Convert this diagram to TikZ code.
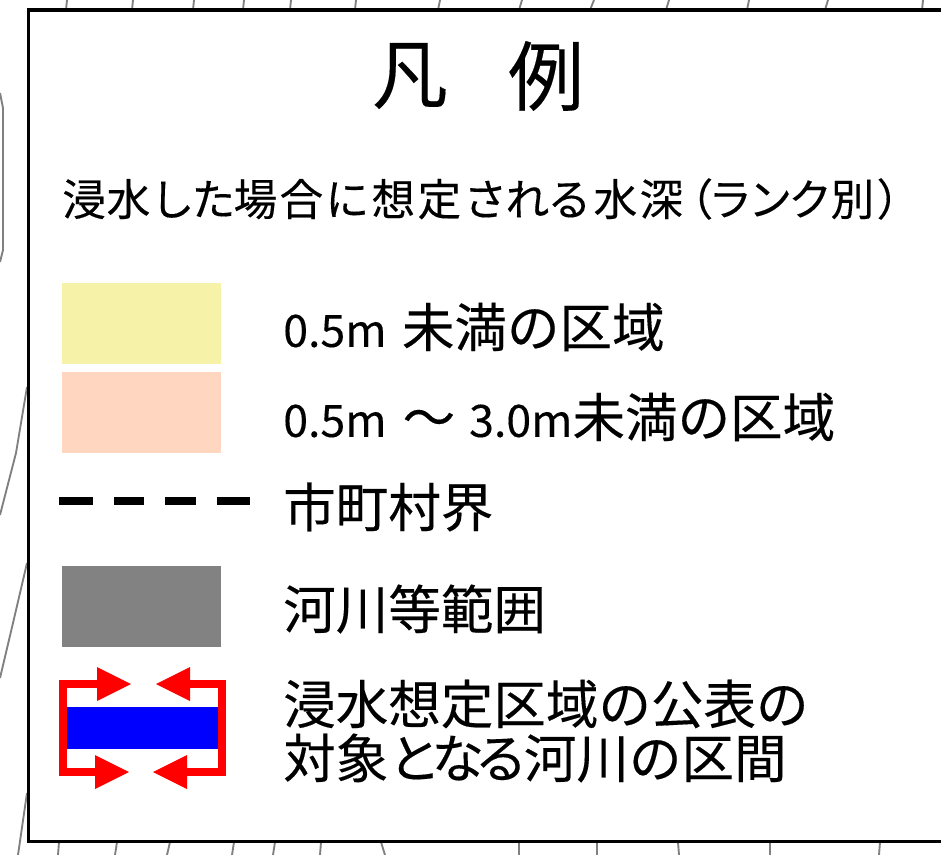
\documentclass[tikz,border=0pt]{standalone}
\usepackage{fontspec}
\setmainfont[UprightFeatures={FakeBold=0.25}]{Noto Sans CJK JP}
\definecolor{swyellow}{HTML}{F6F3A9}
\definecolor{swpeach}{HTML}{FFD6C0}
\definecolor{swgray}{HTML}{828282}
\definecolor{mapline}{HTML}{808080}
\newcommand{\latinpart}[1]{{\fontsize{33.5}{39}\selectfont #1}}
\tikzset{
  px/.style={x=0.75pt,y=-0.75pt},
  mapstroke/.style={draw=mapline,line width=1.4pt},
  frame/.style={draw=black,line width=2.6pt},
  swatch/.style={inner sep=0pt,outer sep=0pt,minimum width=119.25pt,minimum height=60.5pt,anchor=north west},
  rowtext/.style={anchor=west,inner sep=0pt,font=\fontsize{39.4}{40}\selectfont},
  subtext/.style={anchor=west,inner sep=0pt,font=\fontsize{32.7}{34}\selectfont},
  titletext/.style={anchor=center,inner sep=0pt,font=\fontsize{57}{58}\selectfont},
  redfill/.style={fill=red,draw=none},
  redline/.style={draw=red,line width=6pt,miter limit=10}
}
\begin{document}
\begin{tikzpicture}[px]
\useasboundingbox (0,0) rectangle (941,855);
\fill[white] (0,0) rectangle (941,855);
% map lines outside the frame
\foreach \a/\b in {66/67,132/133,193/194,243/244,290/291,355/356,438/440,519/522,590/594,666/669,747/749,825/828,922/923}
  \draw[mapstroke] (\a,10) -- (\b,0);
\foreach \a/\b in {59/58,117/115,170/167,234/232,275/273,321/320,381/385,519/519,597/597,678/679,770/770,880/879}
  \draw[mapstroke] (\a,842) -- (\b,855);
\draw[mapstroke] (0,93) -- (3,108) -- (3,250) -- (0,262);
\draw[mapstroke] (27,387) -- (16,453) -- (0,515);
\draw[mapstroke] (27,563) -- (13,623) -- (0,678);
\draw[mapstroke] (27,793) -- (18,855);
% frame
\draw[frame] (950,10) -- (28.5,10) -- (28.5,841.5) -- (950,841.5);
% title
\node[titletext] (t1) at (410,76) {凡};
\node[titletext] (t2) at (546,76) {例};
\node[subtext] (sub) at (62,199) {浸\kern.6pt 水\kern.3pt し\kern-2pt た\kern-1.2pt 場\kern1.8pt 合\kern1.8pt に\kern1.8pt 想\kern1.8pt 定\kern1.8pt さ\kern-1.2pt れ\kern-1.2pt る\kern1.8pt 水\kern1.8pt 深\kern-10.2pt （\kern-3.6pt ラ\kern-2.7pt ン\kern-2.7pt ク\kern-1pt 別\kern1.8pt ）};
% swatches
\node[swatch,fill=swyellow] (s1) at (62,283) {};
\node[swatch,fill=swpeach] (s2) at (62,372) {};
\node[swatch,fill=swgray] (s3) at (62,566) {};
% dashes
\foreach \a/\b in {59/93,114/144,165/196,217/250}
  \fill[black] (\a,496.5) rectangle (\b,505);
% river symbol
\fill[blue] (67,707) rectangle (218,749);
\draw[redline] (100,684) -- (63,684) -- (63,772) -- (100,772);
\draw[redline] (187,684) -- (221.5,684) -- (221.5,772) -- (187,772);
\fill[redfill] (97,667) -- (131,684) -- (97,701) -- cycle;
\fill[redfill] (190,667) -- (156,684) -- (190,701) -- cycle;
\fill[redfill] (95,755) -- (129,772) -- (95,789) -- cycle;
\fill[redfill] (187,755) -- (153,772) -- (187,789) -- cycle;
% labels
\node[rowtext] (r1) at (283,327) {\latinpart{0.5m}\hspace{11.5pt}未満の区域};
\node[rowtext] (r2) at (283,417) {\latinpart{0.5m}\hspace{12pt}～\hspace{10.5pt}\latinpart{3.0m}未満の区域};
\node[rowtext] (r3) at (283,507) {市町村界};
\node[rowtext] (r4) at (283,609) {河川等範囲};
\node[rowtext] (r5) at (283,704) {浸水想定区域の公表の};
\node[rowtext] (r6) at (283,758) {対象と\kern-7pt な\kern-7pt る\kern-2.5pt 河川の区間};
\end{tikzpicture}
\end{document}
